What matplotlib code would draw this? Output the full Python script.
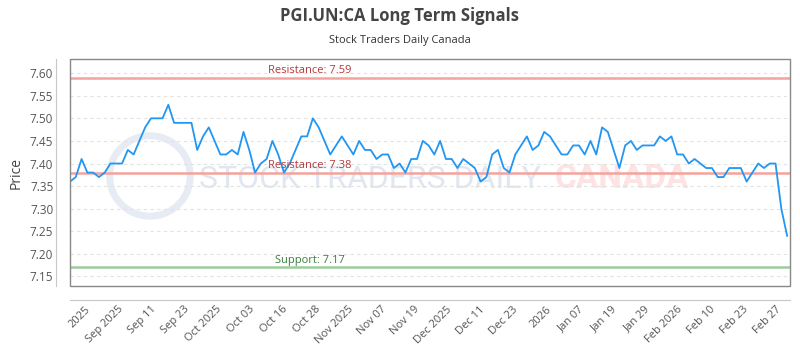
import numpy as np
import matplotlib
matplotlib.use("Agg")
import matplotlib.pyplot as plt
from matplotlib.patches import Rectangle, Ellipse

plt.rcParams["font.family"] = ["Open Sans", "DejaVu Sans"]

# closing prices, one per trading day
prices = [
    7.36, 7.37, 7.41, 7.38, 7.38, 7.37, 7.38, 7.40, 7.40, 7.40,
    7.43, 7.42, 7.45, 7.48, 7.50, 7.50, 7.50, 7.53, 7.49, 7.49,
    7.49, 7.49, 7.43, 7.46, 7.48, 7.45, 7.42, 7.42, 7.43, 7.42,
    7.47, 7.43, 7.38, 7.40, 7.41, 7.45, 7.42, 7.38, 7.40, 7.43,
    7.46, 7.46, 7.50, 7.48, 7.45, 7.42, 7.44, 7.46, 7.44, 7.42,
    7.45, 7.43, 7.43, 7.41, 7.42, 7.42, 7.39, 7.40, 7.38, 7.41,
    7.41, 7.45, 7.44, 7.42, 7.45, 7.41, 7.41, 7.39, 7.41, 7.40,
    7.39, 7.36, 7.37, 7.42, 7.43, 7.39, 7.38, 7.42, 7.44, 7.46,
    7.43, 7.44, 7.47, 7.46, 7.44, 7.42, 7.42, 7.44, 7.44, 7.42,
    7.45, 7.42, 7.48, 7.47, 7.43, 7.39, 7.44, 7.45, 7.43, 7.44,
    7.44, 7.44, 7.46, 7.45, 7.46, 7.42, 7.42, 7.40, 7.41, 7.40,
    7.39, 7.39, 7.37, 7.37, 7.39, 7.39, 7.39, 7.36, 7.38, 7.40,
    7.39, 7.40, 7.40, 7.30, 7.24,
]

tick_labels = [
    "2025", "Sep 2025", "Sep 11", "Sep 23", "Oct 2025", "Oct 03", "Oct 16",
    "Oct 28", "Nov 2025", "Nov 07", "Nov 19", "Dec 2025", "Dec 11", "Dec 23",
    "2026", "Jan 07", "Jan 19", "Jan 29", "Feb 2026", "Feb 10", "Feb 23", "Feb 27",
]

resistance_levels = [7.59, 7.38]
support_levels = [7.17]
y_ticks = [7.15, 7.20, 7.25, 7.30, 7.35, 7.40, 7.45, 7.50, 7.55, 7.60]

fig = plt.figure(figsize=(8, 3.5), dpi=100)
ax = fig.add_axes([0.0875, 0.183, 0.9, 0.648])

x = np.arange(len(prices))

# watermark
ax.text(0.417, 0.47, "STOCK TRADERS DAILY", transform=ax.transAxes,
        ha="center", va="center", fontsize=23, color="#e1e7f1",
        family=["Roboto", "DejaVu Sans"], fontstretch="condensed", zorder=0)
ax.text(0.767, 0.47, "CANADA", transform=ax.transAxes, ha="center",
        va="center", fontsize=24, fontweight="bold", color="#fde3e3",
        family=["Roboto", "DejaVu Sans"], zorder=0)
ax.add_patch(Ellipse((0.111, 0.485), 0.112, 0.355, transform=ax.transAxes,
                     fill=False, ec="#e6ebf4", lw=5, zorder=0))

for lvl in resistance_levels:
    ax.axhline(lvl, color="#f4a29c", lw=1.8, zorder=2)
    ax.text(0.333, lvl + 0.004, f"Resistance: {lvl:.2f}",
            transform=ax.get_yaxis_transform(), ha="center", va="bottom",
            fontsize=8, color="#b23a3a", zorder=4)
for lvl in support_levels:
    ax.axhline(lvl, color="#9ccc9c", lw=1.8, zorder=2)
    ax.text(0.333, lvl + 0.004, f"Support: {lvl:.2f}",
            transform=ax.get_yaxis_transform(), ha="center", va="bottom",
            fontsize=8, color="#3a7d3a", zorder=4)

ax.plot(x, prices, color="#2196f3", lw=1.3, zorder=3)

ax.set_xlim(0, len(prices) - 0.5)
ax.set_ylim(7.129, 7.631)

ax.grid(axis="y", color="#e2e2e2", ls=(0, (3, 3)), lw=0.8)
ax.set_axisbelow(True)

for side in ["top", "right"]:
    ax.spines[side].set_visible(False)
for side in ["left", "bottom"]:
    ax.spines[side].set_position(("outward", 10))
    ax.spines[side].set_color("#c8c8c8")
ax.add_patch(Rectangle((0, 0), 1, 1, transform=ax.transAxes, fill=False,
                       ec="#888888", lw=1, zorder=5, clip_on=False))

ax.tick_params(axis="both", length=0, colors="#555555")
ax.tick_params(axis="y", pad=2, labelsize=8.5)
ax.tick_params(axis="x", pad=3, labelsize=8)

ax.set_yticks(y_ticks)
ax.set_yticklabels([f"{v:.2f}" for v in y_ticks])
ax.set_xticks(np.linspace(3.9, 123.4, len(tick_labels)))
ax.set_xticklabels(tick_labels, rotation=45, ha="right")

ax.set_ylabel("Price", fontsize=10, color="#444444")
ax.yaxis.set_label_coords(-0.064, 0.5)

fig.text(0.5, 0.955, "PGI.UN:CA Long Term Signals", ha="center", va="center",
         fontsize=12, fontweight="bold", color="#444444")
fig.text(0.5, 0.885, "Stock Traders Daily Canada", ha="center", va="center",
         fontsize=8, color="#333333")

fig.savefig("out.png", dpi=100)
